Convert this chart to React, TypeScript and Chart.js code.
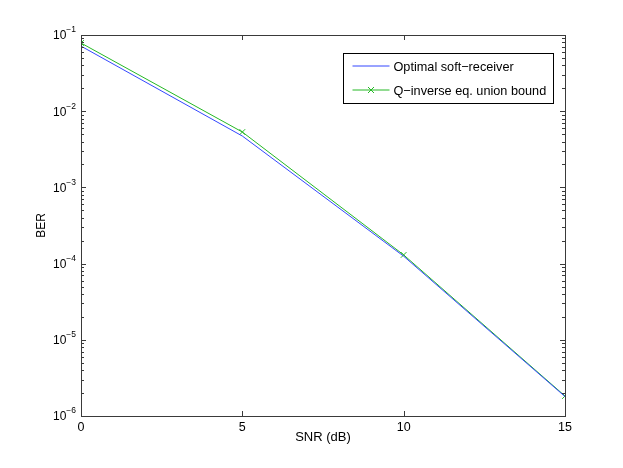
import React, { useEffect, useRef } from "react";
import { Chart, registerables } from "chart.js";

Chart.register(...registerables);

const snr = [0, 5, 10, 15];
const berOptimal = [0.0715, 0.00472, 0.000125, 1.8e-6];
const berUnion = [0.0785, 0.00533, 0.000130, 1.83e-6];
const seriesLabels = ["Optimal soft\u2212receiver", "Q\u2212inverse eq. union bound"];
const xTicks = [0, 5, 10, 15];
const yDecades = [1e-6, 1e-5, 1e-4, 1e-3, 1e-2, 1e-1];

const FONT = "'Liberation Sans', Arial, Helvetica, sans-serif";
const BLUE = "#3347ff";
const GREEN = "#25b825";
const COLORS = [BLUE, GREEN];
const AXIS = "#3a3a3a";

const framePlugin = {
  id: "frame",
  afterDatasetsDraw(chart: any) {
    const { ctx, chartArea: a, scales } = chart;
    const x = scales.x, y = scales.y;
    ctx.save();
    ctx.strokeStyle = AXIS;
    ctx.lineWidth = 1;
    ctx.beginPath();
    for (const v of xTicks) {
      const px = Math.round(x.getPixelForValue(v)) + 0.5;
      ctx.moveTo(px, a.bottom); ctx.lineTo(px, a.bottom - 5);
      ctx.moveTo(px, a.top); ctx.lineTo(px, a.top + 5);
    }
    for (let e = -6; e <= -1; e++) {
      for (let m = 1; m <= 9; m++) {
        const v = m * Math.pow(10, e);
        if (e === -1 && m > 1) break;
        const py = Math.round(y.getPixelForValue(v)) + 0.5;
        const len = m === 1 ? 5 : 3;
        ctx.moveTo(a.left, py); ctx.lineTo(a.left + len, py);
        ctx.moveTo(a.right, py); ctx.lineTo(a.right - len, py);
      }
    }
    ctx.stroke();
    ctx.strokeRect(Math.round(a.left) + 0.5, Math.round(a.top) + 0.5, Math.round(a.right - a.left), Math.round(a.bottom - a.top));

    // y tick labels: 10 with superscript exponent
    ctx.fillStyle = "#000";
    ctx.textBaseline = "middle";
    for (const v of yDecades) {
      const py = y.getPixelForValue(v);
      const exp = "\u2212" + String(Math.abs(Math.round(Math.log10(v))));
      ctx.font = "8.5px " + FONT;
      const ew = ctx.measureText(exp).width;
      ctx.textAlign = "left";
      const ex = a.left - 5 - ew;
      ctx.fillText(exp, ex, py - 5);
      ctx.font = "12px " + FONT;
      ctx.textAlign = "right";
      ctx.fillText("10", ex, py + 1);
    }

    // legend
    const lx = 343.5, ly = 53.5, lw = 210, lh = 50;
    ctx.fillStyle = "#fff";
    ctx.fillRect(lx, ly, lw, lh);
    ctx.strokeStyle = "#000";
    ctx.strokeRect(lx, ly, lw, lh);
    ctx.font = "12.7px " + FONT;
    ctx.textAlign = "left";
    ctx.textBaseline = "middle";
    seriesLabels.forEach((label, i) => {
      const yy = 66 + i * 24;
      ctx.strokeStyle = COLORS[i];
      ctx.beginPath();
      ctx.moveTo(lx + 9, yy); ctx.lineTo(lx + 46, yy);
      ctx.stroke();
      if (i === 1) {
        const cx = lx + 27.5;
        ctx.beginPath();
        ctx.moveTo(cx - 3, yy - 3); ctx.lineTo(cx + 3, yy + 3);
        ctx.moveTo(cx - 3, yy + 3); ctx.lineTo(cx + 3, yy - 3);
        ctx.stroke();
      }
      ctx.fillStyle = "#000";
      ctx.fillText(label, lx + 50, yy + 1);
    });
    ctx.restore();
  },
};

export default function App() {
  const ref = useRef<HTMLCanvasElement>(null);
  useEffect(() => {
    const chart = new Chart(ref.current!, {
      type: "line",
      data: {
        datasets: [
          {
            label: seriesLabels[0],
            data: snr.map((s, i) => ({ x: s, y: berOptimal[i] })),
            borderColor: BLUE,
            backgroundColor: BLUE,
            borderWidth: 1,
            pointRadius: 0,
          },
          {
            label: seriesLabels[1],
            data: snr.map((s, i) => ({ x: s, y: berUnion[i] })),
            borderColor: GREEN,
            backgroundColor: GREEN,
            borderWidth: 1,
            pointStyle: "crossRot",
            pointRadius: 4,
            pointBorderWidth: 1,
          },
        ],
      },
      options: {
        animation: false,
        responsive: false,
        maintainAspectRatio: false,
        layout: { padding: { top: 35, right: 58, left: 33, bottom: 22 } },
        plugins: { legend: { display: false }, tooltip: { enabled: false } },
        scales: {
          x: {
            type: "linear",
            min: 0,
            max: 15,
            afterBuildTicks: (s: any) => { s.ticks = xTicks.map((v) => ({ value: v })); },
            afterFit: (s: any) => { s.height = 30; },
            grid: { display: false, drawTicks: false },
            border: { display: false },
            ticks: { color: "#000", font: { family: FONT, size: 12.5 }, padding: 4 },
            title: { display: true, text: "SNR (dB)", color: "#000", font: { family: FONT, size: 13 }, padding: { top: 0, bottom: 1 } },
          },
          y: {
            type: "logarithmic",
            min: 1e-6,
            max: 1e-1,
            afterBuildTicks: (s: any) => { s.ticks = yDecades.map((v) => ({ value: v })); },
            afterFit: (s: any) => { s.width = 48; },
            grid: { display: false, drawTicks: false },
            border: { display: false },
            ticks: { display: false },
            title: { display: true, text: "BER", color: "#000", font: { family: FONT, size: 12 }, padding: { top: 1, bottom: 0 } },
          },
        },
      },
      plugins: [framePlugin],
    });
    return () => chart.destroy();
  }, []);
  return (
    <div style={{ position: "absolute", left: 0, top: 0, width: 623, height: 468, background: "#fff" }}>
      <canvas ref={ref} width={623} height={468} style={{ width: 623, height: 468 }} />
    </div>
  );
}
